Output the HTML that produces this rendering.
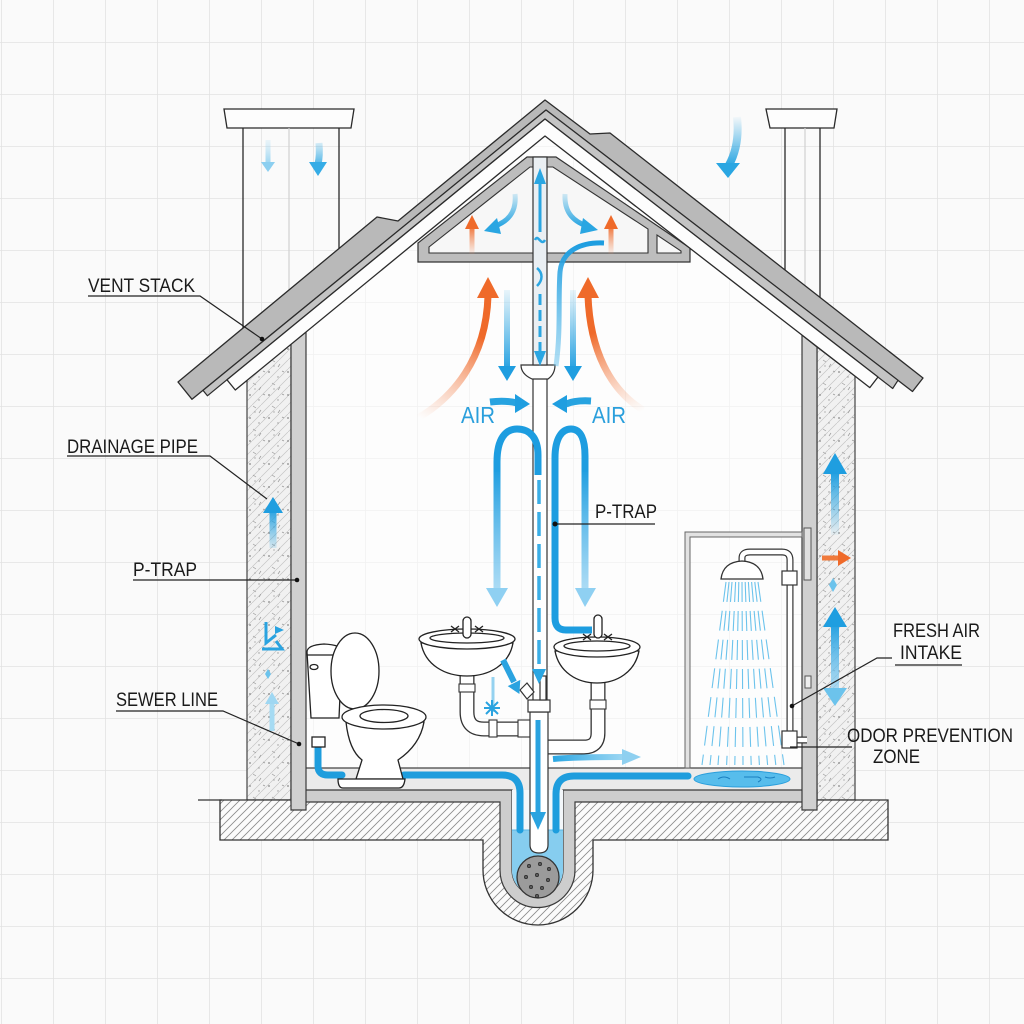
<!DOCTYPE html>
<html><head><meta charset="utf-8">
<style>
html,body{margin:0;padding:0;background:#fafafa;}
svg{display:block;}
text{font-family:"Liberation Sans",Arial,sans-serif;}
</style></head><body>
<svg width="1024" height="1024" viewBox="0 0 1024 1024" xmlns="http://www.w3.org/2000/svg">
<defs>
<pattern id="grid" x="1" y="42" width="52" height="52" patternUnits="userSpaceOnUse"><path d="M0,0 H52 M0,0 V52" stroke="#e2e2e2" stroke-width="1.6" fill="none"/></pattern>
<pattern id="hatch" width="8" height="8" patternUnits="userSpaceOnUse"><rect width="8" height="8" fill="#fbfbfb"/><path d="M-1,9 L9,-1 M-1,1 L1,-1 M7,9 L9,7" stroke="#8a8a8a" stroke-width="0.8"/></pattern>
<pattern id="ins" width="9" height="9" patternUnits="userSpaceOnUse"><rect width="9" height="9" fill="#f1f1f1"/><path d="M-1,10 L10,-1" stroke="#c6c6c6" stroke-width="0.7"/></pattern>
<pattern id="spk" width="19" height="23" patternUnits="userSpaceOnUse"><circle cx="3" cy="4" r="0.9" fill="#888"/><circle cx="12" cy="9" r="0.7" fill="#999"/><path d="M6,15 l3,2 M14,19 l-2,3 M16,3 l2,1" stroke="#999" stroke-width="0.7"/><circle cx="8" cy="21" r="0.6" fill="#888"/></pattern>
<linearGradient id="gc1" gradientUnits="userSpaceOnUse" x1="0" y1="140" x2="0" y2="170"><stop offset="0" stop-color="#a8dcf4" stop-opacity="0.2"/><stop offset="1" stop-color="#7fcaee"/></linearGradient>
<linearGradient id="gc2" gradientUnits="userSpaceOnUse" x1="0" y1="143" x2="0" y2="170"><stop offset="0" stop-color="#3aaee6" stop-opacity="0.2"/><stop offset="1" stop-color="#2aa6e2"/></linearGradient>
<linearGradient id="gc3" gradientUnits="userSpaceOnUse" x1="0" y1="115" x2="0" y2="166"><stop offset="0" stop-color="#2aa6e2" stop-opacity="0"/><stop offset="1" stop-color="#2aa6e2"/></linearGradient>
<linearGradient id="gdn" gradientUnits="userSpaceOnUse" x1="0" y1="290" x2="0" y2="372"><stop offset="0" stop-color="#2aa6e2" stop-opacity="0.1"/><stop offset="1" stop-color="#1f9ee0"/></linearGradient>
<linearGradient id="gorl" gradientUnits="userSpaceOnUse" x1="420" y1="418" x2="488" y2="292"><stop offset="0" stop-color="#f7a27a" stop-opacity="0"/><stop offset="0.7" stop-color="#ef6a2a"/><stop offset="1" stop-color="#ef6a2a"/></linearGradient>
<linearGradient id="gorr" gradientUnits="userSpaceOnUse" x1="645" y1="410" x2="588" y2="292"><stop offset="0" stop-color="#f7a27a" stop-opacity="0"/><stop offset="0.7" stop-color="#ef6a2a"/><stop offset="1" stop-color="#ef6a2a"/></linearGradient>
<linearGradient id="gol" gradientUnits="userSpaceOnUse" x1="0" y1="254" x2="0" y2="225"><stop offset="0" stop-color="#f39060" stop-opacity="0.1"/><stop offset="1" stop-color="#ef6a2a"/></linearGradient>
<linearGradient id="gs" gradientUnits="userSpaceOnUse" x1="0" y1="243" x2="0" y2="370"><stop offset="0" stop-color="#1d9de0"/><stop offset="1" stop-color="#6cc3ec" stop-opacity="0.5"/></linearGradient>
<linearGradient id="gleg" gradientUnits="userSpaceOnUse" x1="0" y1="468" x2="0" y2="595"><stop offset="0" stop-color="#1d9de0"/><stop offset="1" stop-color="#8fd0f2" stop-opacity="0.7"/></linearGradient>
<linearGradient id="gwu" gradientUnits="userSpaceOnUse" x1="0" y1="538" x2="0" y2="472"><stop offset="0" stop-color="#2aa6e2" stop-opacity="0"/><stop offset="1" stop-color="#1f9ee0"/></linearGradient>
<linearGradient id="gwd" gradientUnits="userSpaceOnUse" x1="0" y1="622" x2="0" y2="695"><stop offset="0" stop-color="#1f9ee0"/><stop offset="1" stop-color="#8fd0f2" stop-opacity="0.6"/></linearGradient>
<linearGradient id="giu" gradientUnits="userSpaceOnUse" x1="0" y1="550" x2="0" y2="508"><stop offset="0" stop-color="#2aa6e2" stop-opacity="0.1"/><stop offset="1" stop-color="#1f9ee0"/></linearGradient>
<linearGradient id="gfa" gradientUnits="userSpaceOnUse" x1="553" y1="0" x2="640" y2="0"><stop offset="0" stop-color="#2aa6e2"/><stop offset="1" stop-color="#9ed8f4" stop-opacity="0.8"/></linearGradient>
<linearGradient id="gat" gradientUnits="userSpaceOnUse" x1="0" y1="194" x2="0" y2="226"><stop offset="0" stop-color="#2aa6e2" stop-opacity="0.2"/><stop offset="1" stop-color="#2aa6e2"/></linearGradient>
</defs>

<rect width="1024" height="1024" fill="#fafafa"/>
<rect width="1024" height="1024" fill="url(#grid)"/>

<path d="M306,332 L545,136 L802,335 V768 H306 Z" fill="#ffffff" fill-opacity="0.5"/>

<g stroke="#2a2a2a" stroke-width="1.3" fill="none">
<path d="M224,109 H354 L351,128 H227 Z" fill="#fdfdfd"/>
<path d="M243,128 V330 M339,128 V252"/>
<path d="M766,109 H837 L834,128 H770 Z" fill="#fdfdfd"/>
<path d="M785,128 V272 M820,128 V299"/>
</g>
<path d="M289,128 V292 M805,128 V287" stroke="#d0d0d0" stroke-width="1.2"/>

<path d="M247,380 L291,344 V800 H247 Z" fill="url(#ins)" stroke="#444" stroke-width="1.2"/>
<path d="M247,380 L291,344 V800 H247 Z" fill="url(#spk)"/>
<path d="M817,347 L855,376 V800 H817 Z" fill="url(#ins)" stroke="#444" stroke-width="1.2"/>
<path d="M817,347 L855,376 V800 H817 Z" fill="url(#spk)"/>

<path d="M220,800 H888 V840 H593 V870 A55,55 0 0 1 483,870 V840 H220 Z" fill="url(#hatch)" stroke="#333" stroke-width="1.3"/>
<path d="M198,800 H222" stroke="#333" stroke-width="1.3"/>

<rect x="306" y="768" width="496" height="22" fill="#ebebeb"/>
<path d="M306,768 H802" stroke="#444" stroke-width="1.2"/>
<path d="M291,802 H500 V870 A37.5,37.5 0 0 0 575,870 V802 H817 V790 H563 V870 A25.5,25.5 0 0 1 512,870 V790 H291 Z" fill="#cdcdcd" stroke="#3a3a3a" stroke-width="1.2"/>
<path d="M512,790 H563 V870 A25.5,25.5 0 0 1 512,870 Z" fill="#f3f7fa"/>
<path d="M512,830 H563 V870 A25.5,25.5 0 0 1 512,870 Z" fill="#86cdef"/>
<path d="M512,830 H563" stroke="#5ab8e6" stroke-width="1"/>

<path d="M291,344 L306,332 V810 H291 Z" fill="#d0d0d0" stroke="#3a3a3a" stroke-width="1.2"/>
<path d="M802,335 L817,347 V810 H802 Z" fill="#d0d0d0" stroke="#3a3a3a" stroke-width="1.2"/>

<g stroke="#1e9ddd" stroke-width="7" fill="none" stroke-linecap="round">
<path d="M318,747 V766 Q318,775 328,775 H342"/>
<path d="M404,775 H502 Q520,775 520,793 V830"/>
<path d="M688,776 H574 Q556,776 556,794 V830"/>
</g>

<circle cx="538" cy="877" r="21" fill="#9b9b9b" stroke="#333" stroke-width="1.3"/>
<g fill="#5a5a5a" stroke="#222" stroke-width="0.6">
<circle cx="529" cy="866" r="1.7"/><circle cx="540" cy="864" r="1.7"/><circle cx="549" cy="869" r="1.7"/>
<circle cx="526" cy="877" r="1.7"/><circle cx="537" cy="875" r="1.7"/><circle cx="548" cy="880" r="1.7"/>
<circle cx="531" cy="887" r="1.7"/><circle cx="542" cy="888" r="1.7"/><circle cx="537" cy="896" r="1.7"/>
</g>

<path d="M685,768 V532 H802 V537 H690 V768 Z" fill="#e2e2e2" stroke="#666" stroke-width="1"/>
<rect x="804" y="528" width="7" height="52" fill="#e0e0e0" stroke="#555" stroke-width="1"/>
<rect x="805" y="676" width="6" height="12" fill="#eee" stroke="#555" stroke-width="1"/>
<path d="M726,582 L702,765 M729,582 L710,765 M732,582 L718,765 M735.6,582 L726.6,765 M738.8,582 L734.8,765 M742,582 L743,765 M745.2,582 L751.2,765 M748.4,582 L759.4,765 M751.6,582 L767.6,765 M754.8,582 L775.8,765 M758,582 L784,765" stroke="#6cc3ec" stroke-width="1.1" stroke-dasharray="20 9" fill="none"/>
<path d="M742,562 V558 Q742,552 750,552 H782 Q790,552 790,560 V740 H807" stroke="#333" stroke-width="7" fill="none"/>
<path d="M742,562 V558 Q742,552 750,552 H782 Q790,552 790,560 V740 H807" stroke="#fff" stroke-width="4.6" fill="none"/>
<rect x="782" y="571" width="15" height="14" fill="#fff" stroke="#333" stroke-width="1.2"/>
<rect x="782" y="731" width="15" height="17" fill="#fff" stroke="#333" stroke-width="1.2"/>
<path d="M721,579 Q723,562 742,561 Q761,562 763,579 Z" fill="#fff" stroke="#333" stroke-width="1.3"/>
<ellipse cx="742" cy="779" rx="48" ry="8" fill="#57bdec" stroke="#2b9fdc" stroke-width="1"/>
<path d="M718,779 q6,-4 12,0 M744,777 h14 q6,2 0,5 M765,777 q5,2 10,0" stroke="#1a7fc0" stroke-width="1" fill="none"/>

<g stroke="#222" stroke-width="1.3" fill="#fff">
<path d="M307,652 Q307,645 324,644 Q342,645 342,651 L339,718 L311,718 Z"/>
<path d="M307,655 H342"/>
<ellipse cx="314" cy="667" rx="4" ry="2.5"/>
<ellipse cx="355" cy="671" rx="24" ry="38"/>
<path d="M346,722 Q349,750 362,760 L356,779 H403 L398,760 Q420,745 424,722 Z"/>
<ellipse cx="384" cy="717" rx="42" ry="12"/>
<ellipse cx="384" cy="716" rx="24" ry="6.5"/>
<path d="M338,779 H405 Q404,788 399,788 H343 Q338,788 338,779 Z"/>
<rect x="312" y="737" width="13" height="10"/>
</g>

<g fill="none">
<path d="M467,676 V712 Q467,729 484,729 H531" stroke="#333" stroke-width="15"/>
<path d="M467,676 V712 Q467,729 484,729 H531" stroke="#fff" stroke-width="12.4"/>
<path d="M598,683 V733 Q598,747 584,747 H548" stroke="#333" stroke-width="15"/>
<path d="M598,683 V733 Q598,747 584,747 H548" stroke="#fff" stroke-width="12.4"/>
</g>
<g stroke="#333" stroke-width="1.1" fill="#fff">
<rect x="459" y="684" width="16" height="8"/>
<rect x="489" y="720" width="8" height="17"/>
<rect x="590" y="700" width="16" height="9"/>
<rect x="518" y="720" width="12" height="17"/>
</g>

<g stroke="#222" stroke-width="1.3" fill="#fff">
<path d="M421,643 C425,665 445,676 467,676 C489,676 509,665 513,643 Z"/>
<ellipse cx="467" cy="639" rx="48" ry="10"/>
<ellipse cx="467" cy="638" rx="37" ry="5"/>
<rect x="463" y="617" width="8" height="21" rx="4"/>
<path d="M451,626 l8,6 M459,626 l-8,6 M475,626 l8,6 M483,626 l-8,6" fill="none"/>
<path d="M555,651 C559,672 577,683 597,683 C617,683 635,672 639,651 Z"/>
<ellipse cx="597" cy="647" rx="43" ry="10"/>
<ellipse cx="597" cy="646" rx="33" ry="5"/>
<rect x="594" y="615" width="8" height="23" rx="4"/>
<path d="M583,634 l8,6 M591,634 l-8,6 M604,634 l8,6 M612,634 l-8,6" fill="none"/>
</g>

<g stroke="#333" stroke-width="1.2" fill="#fff">
<rect x="533" y="377" width="14" height="325"/>
<path d="M530,712 V845 Q530,853 539,853 Q548,853 548,845 V712 Z"/>
<rect x="528" y="700" width="22" height="12"/>
<path d="M521,365 H555 Q555,374 548,379 H532 Q521,374 521,365 Z"/>
<path d="M520,690 L527,683 L534,692 L527,699 Z"/>
<rect x="540" y="676" width="6" height="24"/>
</g>

<path d="M418,262 V243 L527,157 H556 L690,248 V262 Z" fill="#bdbdbd" stroke="#333" stroke-width="1.2"/>
<path d="M429,253 V247 L530,167 H553 L648,229 V253 Z" fill="#f7f7f7" stroke="#333" stroke-width="1.1"/>
<path d="M657,253 V235 L681,251 V253 Z" fill="#f7f7f7" stroke="#333" stroke-width="1.1"/>
<rect x="533" y="157" width="14" height="208" fill="#eaeff3" stroke="#333" stroke-width="1.2"/>

<path d="M268,140 V164" stroke="url(#gc1)" stroke-width="5" fill="none"/>
<polygon points="261,162 275,162 268,172" fill="#8ccff0"/>
<path d="M319,143 Q320,156 318,164" stroke="url(#gc2)" stroke-width="7" fill="none"/>
<polygon points="309,162 327,162 318,176" fill="#35ace6"/>
<path d="M737,117 Q740,145 729,165" stroke="url(#gc3)" stroke-width="8" fill="none"/>
<polygon points="716,163 740,163 728,178" fill="#2aa6e2"/>

<path d="M540,232 V180" stroke="#2aa6e2" stroke-width="3"/>
<polygon points="534,184 546,184 540,168" fill="#2aa6e2"/>
<path d="M535,240 C538,233 541,247 545,240 M537,268 C543,273 543,280 537,286" stroke="#2aa6e2" stroke-width="2.5" fill="none"/>
<path d="M540,294 V352" stroke="#2aa6e2" stroke-width="3" stroke-dasharray="11 5"/>
<polygon points="534,351 546,351 540,366" fill="#2aa6e2"/>
<path d="M515,194 C517,214 506,222 495,226" stroke="url(#gat)" stroke-width="5" fill="none"/>
<polygon points="497,218 484,231 501,234" fill="#2aa6e2"/>
<path d="M565,194 C564,214 575,222 587,226" stroke="url(#gat)" stroke-width="5" fill="none"/>
<polygon points="583,218 598,230 580,234" fill="#2aa6e2"/>
<path d="M472,254 V226" stroke="url(#gol)" stroke-width="5"/>
<polygon points="465,229 479,229 472,215" fill="#ef6a2a"/>
<path d="M611,254 V226" stroke="url(#gol)" stroke-width="5"/>
<polygon points="604,229 618,229 611,215" fill="#ef6a2a"/>

<path d="M418,418 C452,398 486,360 488,296" stroke="url(#gorl)" stroke-width="7" fill="none"/>
<polygon points="477,298 499,298 488,277" fill="#ef6a2a"/>
<path d="M643,410 C610,390 590,350 588,296" stroke="url(#gorr)" stroke-width="7" fill="none"/>
<polygon points="577,298 599,298 588,277" fill="#ef6a2a"/>

<path d="M507,290 V368" stroke="url(#gdn)" stroke-width="6"/>
<polygon points="498,366 516,366 507,381" fill="#1f9ee0"/>
<path d="M573,290 V368" stroke="url(#gdn)" stroke-width="6"/>
<polygon points="564,366 582,366 573,381" fill="#1f9ee0"/>
<path d="M604,243 C582,242 562,250 560,272 C558,300 561,330 556,366" stroke="url(#gs)" stroke-width="5" fill="none"/>

<path d="M490,402 Q505,400 517,403" stroke="#27a3e0" stroke-width="7" fill="none"/>
<polygon points="515,394 530,404 515,413" fill="#1f9ee0"/>
<path d="M591,401 Q576,400 566,404" stroke="#27a3e0" stroke-width="7" fill="none"/>
<polygon points="567,395 552,404 567,413" fill="#1f9ee0"/>

<path d="M538,475 V455 C538,438 530,429 517,429 C506,429 497,438 497,462 V472" stroke="#1d9de0" stroke-width="7" fill="none"/>
<path d="M497,470 V590" stroke="url(#gleg)" stroke-width="7"/>
<polygon points="486,588 508,588 497,607" fill="#8fd0f2"/>
<path d="M592,630 H566 Q555,630 555,618 V458 C555,438 562,429 571,429 C581,429 585,440 585,456 V472" stroke="#1d9de0" stroke-width="7" fill="none"/>
<path d="M585,470 V590" stroke="url(#gleg)" stroke-width="7"/>
<polygon points="575,588 596,588 585,607" fill="#8fd0f2"/>
<path d="M539,480 V670" stroke="#3aaee6" stroke-width="3.5" stroke-dasharray="24 8"/>
<polygon points="532,669 546,669 539,684" fill="#2aa6e2"/>

<path d="M503,660 L514,682" stroke="#2aa3e0" stroke-width="6"/>
<polygon points="520.3,679.9 507.7,686.1 519.4,694" fill="#2aa3e0"/>
<path d="M493,677 V712" stroke="#7cc8ee" stroke-width="3" opacity="0.8"/>
<path d="M484,708 H500 M492,700 V716 M486,702 L498,714 M498,702 L486,714" stroke="#2aa3e0" stroke-width="2"/>
<path d="M538,720 V815" stroke="#2aa3e0" stroke-width="5"/>
<polygon points="530,812 546,812 538,830" fill="#2aa3e0"/>
<path d="M553,759 C575,757 600,757 624,757" stroke="url(#gfa)" stroke-width="6" fill="none"/>
<polygon points="622,749 641,757 622,765" fill="#8fd0f0"/>

<path d="M835,535 V470" stroke="url(#gwu)" stroke-width="8"/>
<polygon points="823,474 847,474 835,453" fill="#1f9ee0"/>
<path d="M822,558 H840" stroke="#f07a3c" stroke-width="5"/>
<polygon points="838,550 851,558 838,566" fill="#ef6a2a"/>
<polygon points="833,578 837,585 833,592 829,585" fill="#6cc3ec"/>
<path d="M835,622 V692" stroke="url(#gwd)" stroke-width="8"/>
<polygon points="823,627 847,627 835,607" fill="#1f9ee0"/>
<polygon points="823,688 847,688 835,706" fill="#6cc3ec"/>

<path d="M273,548 V510" stroke="url(#giu)" stroke-width="7"/>
<polygon points="263,513 283,513 273,497" fill="#1f9ee0"/>
<path d="M266,622 V643 L276,635 M262,649 H282 L276,641" stroke="#2aa3e0" stroke-width="3" fill="none"/>
<polygon points="275,626 284,630 275,634" fill="#2aa3e0"/>
<polygon points="268,669 271,674 268,679 265,674" fill="#6cc3ec"/>
<path d="M272,731 V702" stroke="#a6dbf3" stroke-width="5"/>
<polygon points="265,704 279,704 272,692" fill="#9fd7f2"/>

<path d="M178,382 L377,217 L398,221 L545,100 L590,134 L610,133 L923,378 L912.5,391.5 L546,110 L192,399.3 Z" fill="#b9b9b9" stroke="#2b2b2b" stroke-width="1.3" stroke-linejoin="round"/>
<path d="M203,390.4 L546,110 L898,380.3 L892.7,388.5 L545,119 L207.4,395.8 Z" fill="#c4c4c4" stroke="#2b2b2b" stroke-width="1.2" stroke-linejoin="round"/>
<path d="M227,379.8 L545,119 L878,377 L869.8,387.6 L545,136 L235.3,390 Z" fill="#fdfdfd" stroke="#2b2b2b" stroke-width="1.3" stroke-linejoin="round"/>

<g stroke="#222" stroke-width="1.2" fill="none">
<path d="M88,296 H200 L262,339"/>
<path d="M67,456 H210 L267,499"/>
<path d="M133,580 H297"/>
<path d="M116,711 H223 L299,744"/>
<path d="M555,524 H655"/>
<path d="M895,665 H962"/>
<path d="M892,658 H877 L792,706"/>
<path d="M790,747 H852"/>
</g>
<g fill="#111">
<circle cx="262" cy="339" r="2.3"/><circle cx="297" cy="580" r="2.3"/><circle cx="299" cy="744" r="2.3"/>
<circle cx="555" cy="524" r="2.5"/><circle cx="792" cy="706" r="2.3"/>
</g>

<g fill="#1a1a1a" font-size="19">
<text x="88" y="292" textLength="107" lengthAdjust="spacingAndGlyphs">VENT STACK</text>
<text x="67" y="453" textLength="131" lengthAdjust="spacingAndGlyphs">DRAINAGE PIPE</text>
<text x="133" y="576" textLength="64" lengthAdjust="spacingAndGlyphs">P-TRAP</text>
<text x="116" y="706" textLength="102" lengthAdjust="spacingAndGlyphs">SEWER LINE</text>
<text x="595" y="518" textLength="62" lengthAdjust="spacingAndGlyphs">P-TRAP</text>
<text x="893" y="637" textLength="87" lengthAdjust="spacingAndGlyphs">FRESH AIR</text>
<text x="900" y="659" textLength="62" lengthAdjust="spacingAndGlyphs">INTAKE</text>
<text x="847" y="742" textLength="166" lengthAdjust="spacingAndGlyphs">ODOR PREVENTION</text>
<text x="873" y="763" textLength="47" lengthAdjust="spacingAndGlyphs">ZONE</text>
</g>
<g fill="#2a9fdc" font-size="23">
<text x="461" y="423" textLength="34" lengthAdjust="spacingAndGlyphs">AIR</text>
<text x="592" y="423" textLength="34" lengthAdjust="spacingAndGlyphs">AIR</text>
</g>
</svg>
</body></html>
